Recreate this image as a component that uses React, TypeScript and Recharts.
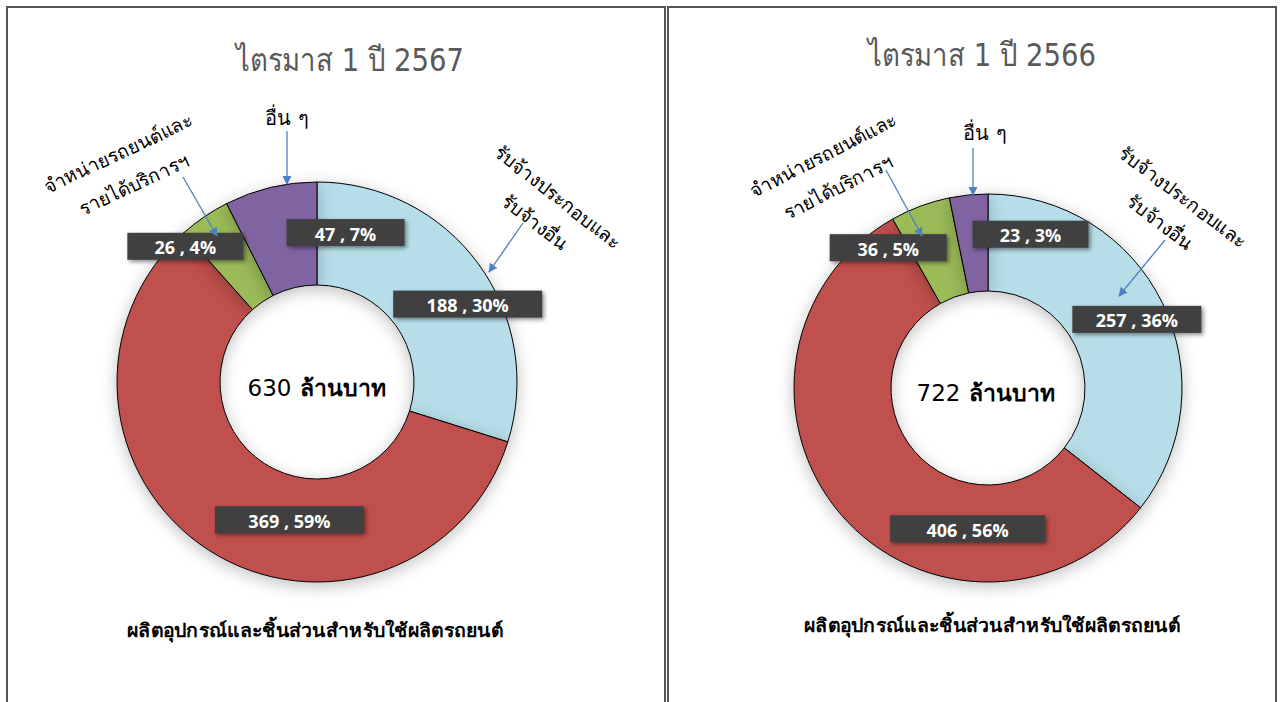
import React from "react";
import { PieChart, Pie, Cell } from "recharts";

const categoryLines = [
  ["รับจ้างประกอบและ", "รับจ้างอื่น"],
  ["ผลิตอุปกรณ์และชิ้นส่วนสำหรับใช้ผลิตรถยนต์"],
  ["จำหน่ายรถยนต์และ", "รายได้บริการฯ"],
  ["อื่น ๆ"],
];
const categories = categoryLines.map((l) => l.join(""));
const values2567 = [188, 369, 26, 47];
const values2566 = [257, 406, 36, 23];
const titles = ["ไตรมาส 1 ปี 2567", "ไตรมาส 1 ปี 2566"];
const unitText = "ล้านบาท";
const colors = ["#B7DEE8", "#C0504D", "#9BBB59", "#8064A2"];

const THAI = "Tahoma, 'DejaVu Sans', 'Noto Sans', sans-serif";
const MARGIN = 5; // recharts default chart margin

// layout for each panel (page coordinates)
const panels = [
  {
    values: values2567,
    title: titles[0],
    left: 0,
    width: 666,
    cx: 317,
    cy: 382,
    outer: 200,
    inner: 97,
    titleAt: [350, 60],
    centerAt: [317, 388],
    bottomAt: [315, 630],
    // label box offsets from slice mid point, and box widths
    boxOffsets: [[31, 10], [53, 13], [-48, -13], [63, -5]],
    boxWidths: [149, 149, 116, 118],
    others: { text: [287, 118], arrow: [287, 131, 287, 184] },
    dealer: { line1: [118, 153], line2: [134, 184], rot: -25, arrow: [183, 177, 217, 236] },
    assembly: { line1: [558, 197], line2: [535, 222], rot: 38, arrow: [523, 223, 489, 272] },
  },
  {
    values: values2566,
    title: titles[1],
    left: 666,
    width: 616,
    cx: 988,
    cy: 388,
    outer: 194,
    inner: 97,
    titleAt: [982, 55],
    centerAt: [986, 393],
    bottomAt: [992, 625],
    boxOffsets: [[18, -5], [90, 46], [-49, -4], [57, -9]],
    boxWidths: [129, 155, 117, 116],
    others: { text: [985, 133], arrow: [973, 148, 973, 195] },
    dealer: { line1: [823, 155], line2: [838, 187], rot: -27, arrow: [886, 170, 922, 236] },
    assembly: { line1: [1183, 197], line2: [1160, 222], rot: 37, arrow: [1165, 240, 1119, 296] },
  },
];

const RAD = Math.PI / 180;

function makeLabel(p: any) {
  return (props: any) => {
    const { cx, cy, midAngle, innerRadius, outerRadius, value, percent, index } = props;
    const r = (innerRadius + outerRadius) / 2;
    const x = cx + r * Math.cos(-midAngle * RAD) + p.boxOffsets[index][0];
    const y = cy + r * Math.sin(-midAngle * RAD) + p.boxOffsets[index][1];
    const w = p.boxWidths[index];
    const h = 27;
    return (
      <g key={`lbl-${index}`}>
        <rect
          x={x - w / 2}
          y={y - h / 2}
          width={w}
          height={h}
          fill="#404040"
          style={{ filter: "drop-shadow(2px 2px 2px rgba(0,0,0,0.45))" }}
        />
        <text
          x={x}
          y={y + 1}
          textAnchor="middle"
          dominantBaseline="central"
          fill="#fff"
          fontFamily="'Open Sans', 'Noto Sans', sans-serif"
          fontWeight="bold"
          fontSize={18}
        >
          {`${value} , ${Math.round(percent * 100)}%`}
        </text>
      </g>
    );
  };
}

function Donut({ p }: { p: any }) {
  const data = categories.map((name, i) => ({ name, value: p.values[i] }));
  return (
    <div style={{ position: "absolute", left: p.left, top: 0 }}>
      <PieChart width={p.width} height={702}>
        <Pie
          data={data}
          dataKey="value"
          nameKey="name"
          cx={p.cx - p.left - MARGIN}
          cy={p.cy - MARGIN}
          innerRadius={p.inner}
          outerRadius={p.outer}
          startAngle={90}
          endAngle={-270}
          stroke="#000"
          strokeWidth={1}
          labelLine={false}
          label={makeLabel(p)}
          isAnimationActive={false}
          style={{ filter: "drop-shadow(0px 4px 8px rgba(0,0,0,0.25))" }}
        >
          {data.map((d, i) => (
            <Cell key={d.name} fill={colors[i]} />
          ))}
        </Pie>
      </PieChart>
    </div>
  );
}

function Arrow({ a }: { a: number[] }) {
  return (
    <line
      x1={a[0]}
      y1={a[1]}
      x2={a[2]}
      y2={a[3]}
      stroke="#4F81BD"
      strokeWidth={1.3}
      markerEnd="url(#arrowHead)"
    />
  );
}

function Overlay() {
  return (
    <svg
      width={1282}
      height={702}
      style={{ position: "absolute", left: 0, top: 0, pointerEvents: "none" }}
    >
      <defs>
        <marker id="arrowHead" viewBox="0 0 10 10" refX="9" refY="5" markerWidth="7" markerHeight="7" orient="auto">
          <path d="M0,0 L10,5 L0,10 z" fill="#4F81BD" />
        </marker>
      </defs>
      <rect x={7} y={7} width={658} height={720} fill="none" stroke="#555" strokeWidth={2} />
      <rect x={668} y={7} width={608} height={720} fill="none" stroke="#555" strokeWidth={2} />
      {panels.map((p, k) => {
        const total = p.values.reduce((s: number, v: number) => s + v, 0);
        return (
          <g key={k}>
            <text
              x={p.titleAt[0]}
              y={p.titleAt[1]}
              textAnchor="middle"
              dominantBaseline="central"
              fill="#595959"
              fontFamily={THAI}
              fontSize={32}
              textLength={228}
              lengthAdjust="spacingAndGlyphs"
            >
              {p.title}
            </text>
            <text
              x={p.centerAt[0]}
              y={p.centerAt[1]}
              textAnchor="middle"
              dominantBaseline="central"
              fill="#000"
              fontFamily={THAI}
              fontSize={23}
            >
              {total}
              <tspan dx={9} fontWeight="bold">{unitText}</tspan>
            </text>
            <text
              x={p.bottomAt[0]}
              y={p.bottomAt[1]}
              textAnchor="middle"
              dominantBaseline="central"
              fill="#000"
              fontFamily={THAI}
              fontWeight="bold"
              fontSize={19}
              textLength={376}
              lengthAdjust="spacingAndGlyphs"
            >
              {categoryLines[1][0]}
            </text>
            <text
              x={p.others.text[0]}
              y={p.others.text[1]}
              textAnchor="middle"
              dominantBaseline="central"
              fill="#000"
              fontFamily={THAI}
              fontSize={20}
            >
              {categoryLines[3][0]}
            </text>
            <Arrow a={p.others.arrow} />
            {[p.dealer.line1, p.dealer.line2].map((c: number[], j: number) => (
              <text
                key={`d${j}`}
                x={c[0]}
                y={c[1]}
                textAnchor="middle"
                dominantBaseline="central"
                fill="#000"
                fontFamily={THAI}
                fontSize={19}
                transform={`rotate(${p.dealer.rot}, ${c[0]}, ${c[1]})`}
              >
                {categoryLines[2][j]}
              </text>
            ))}
            <Arrow a={p.dealer.arrow} />
            {[p.assembly.line1, p.assembly.line2].map((c: number[], j: number) => (
              <text
                key={`a${j}`}
                x={c[0]}
                y={c[1]}
                textAnchor="middle"
                dominantBaseline="central"
                fill="#000"
                fontFamily={THAI}
                fontSize={19}
                transform={`rotate(${p.assembly.rot}, ${c[0]}, ${c[1]})`}
              >
                {categoryLines[0][j]}
              </text>
            ))}
            <Arrow a={p.assembly.arrow} />
          </g>
        );
      })}
    </svg>
  );
}

export default function App() {
  return (
    <div
      style={{
        position: "absolute",
        left: 0,
        top: 0,
        width: 1282,
        height: 702,
        overflow: "hidden",
        background: "#fff",
      }}
    >
      {panels.map((p, k) => (
        <Donut key={k} p={p} />
      ))}
      <Overlay />
    </div>
  );
}
